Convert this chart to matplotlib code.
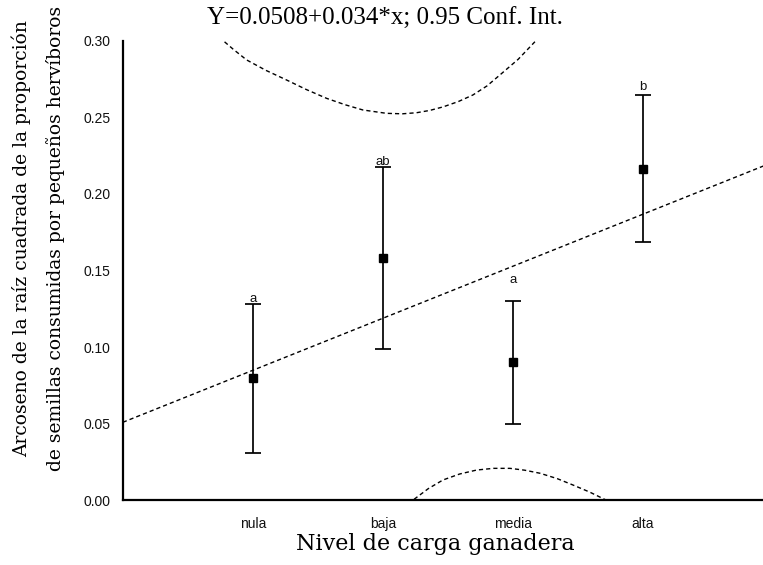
import numpy as np
import matplotlib
matplotlib.use("Agg")
import matplotlib.pyplot as plt

# categories and group means with 0.95 CI
categories = ["nula", "baja", "media", "alta"]
cat_x = [1, 2, 3, 4]
means = [0.080, 0.158, 0.090, 0.216]
ci_low = [0.031, 0.099, 0.0495, 0.1685]
ci_high = [0.128, 0.2175, 0.130, 0.2645]
letters = ["a", "ab", "a", "b"]
letter_y = [0.1315, 0.221, 0.1435, 0.270]

# regression Y = 0.0508 + 0.034*x
intercept = 0.0508
slope = 0.034
reg_x = [0.0, 5.0]

# confidence band curves
upper_x = [0.74, 0.85, 0.952, 1.10, 1.259, 1.41, 1.567, 1.71, 1.846, 2.028, 2.15,
           2.259, 2.36, 2.462, 2.58, 2.692, 2.80, 2.900, 3.04, 3.169]
upper_y = [0.3025, 0.2945, 0.2876, 0.2808, 0.2745, 0.2683, 0.2625, 0.2583, 0.2549,
           0.2527, 0.2524, 0.2531, 0.2546, 0.2569, 0.2604, 0.2647, 0.2706, 0.2778,
           0.2880, 0.2995]
lower_x = [2.24, 2.35, 2.462, 2.59, 2.721, 2.85, 2.977, 3.09, 3.208, 3.34, 3.462,
           3.59, 3.72]
lower_y = [0.0005, 0.0075, 0.0131, 0.0170, 0.0196, 0.0207, 0.0207, 0.0195, 0.0175,
           0.0140, 0.0098, 0.0052, -0.0002]

yticks = [0.00, 0.05, 0.10, 0.15, 0.20, 0.25, 0.30]

fig = plt.figure(figsize=(7.63, 5.65), dpi=100)
ax = fig.add_axes([0.161, 0.115, 0.839, 0.8125])

dash = (0, (3, 2.2))
reg_y = [intercept + slope * x for x in reg_x]
ax.plot(reg_x, reg_y, ls=dash, lw=1.0, c="k")
ax.plot(upper_x, upper_y, ls=dash, lw=1.0, c="k")
ax.plot(lower_x, lower_y, ls=dash, lw=1.0, c="k")

means_a = np.array(means)
yerr = [means_a - np.array(ci_low), np.array(ci_high) - means_a]
ax.errorbar(cat_x, means, yerr=yerr, fmt="s", color="k", ms=6,
            ecolor="k", elinewidth=1.25, capsize=5.5, capthick=1.25)

for x, y, t in zip(cat_x, letter_y, letters):
    ax.text(x, y, t, ha="center", va="center", fontsize=9.5,
            family="Liberation Sans", color="#111111")

ax.set_xlim(0, 4.923)
ax.set_ylim(0, 0.30)
ax.set_xticks(cat_x)
ax.set_xticklabels(categories, fontsize=10, family="Liberation Sans", color="#111111")
ax.set_yticks(yticks)
ax.set_yticklabels(["%.2f" % y for y in yticks], fontsize=10,
                   family="Liberation Sans", color="#111111")
ax.tick_params(axis="both", length=0)
ax.tick_params(axis="x", pad=12)
ax.tick_params(axis="y", pad=9)

for s in ["top", "right"]:
    ax.spines[s].set_visible(False)
for s in ["left", "bottom"]:
    ax.spines[s].set_linewidth(1.6)

fig.text(0.571, 0.038, "Nivel de carga ganadera", ha="center", va="center",
         fontsize=16, family="DejaVu Serif")
fig.text(0.028, 0.578, "Arcoseno de la raíz cuadrada de la proporción",
         rotation=90, ha="center", va="center", fontsize=13.5, family="DejaVu Serif")
fig.text(0.073, 0.578, "de semillas consumidas por pequeños hervíboros",
         rotation=90, ha="center", va="center", fontsize=13.5, family="DejaVu Serif")
fig.text(0.505, 0.966, "Y=0.0508+0.034*x; 0.95 Conf. Int.", ha="center", va="center",
         fontsize=18, family="Liberation Serif")

fig.savefig("out.png", dpi=100)
